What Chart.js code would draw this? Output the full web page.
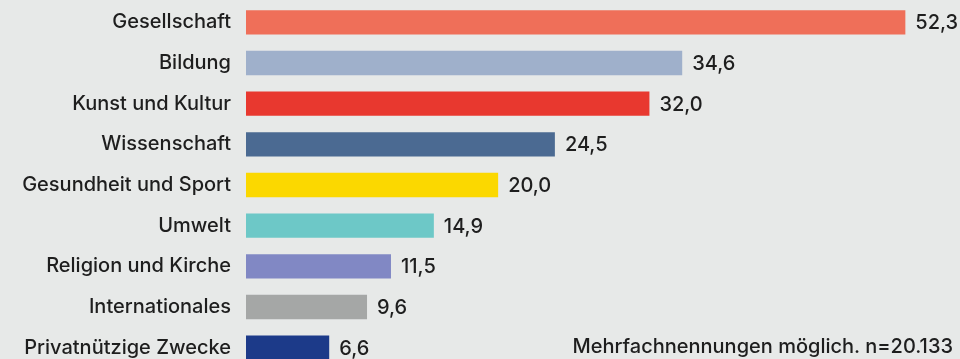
<!DOCTYPE html>
<html><head><meta charset="utf-8">
<script src="https://cdn.jsdelivr.net/npm/chart.js@4/dist/chart.umd.min.js"></script>
<style>
html,body{margin:0;padding:0;background:#e7e9e8;overflow:hidden;width:960px;height:359px;}
#wrap{position:absolute;left:0;top:-17px;width:960px;height:404px;}
#note{position:absolute;right:7px;top:336px;font:500 20px/20px Inter,sans-serif;color:#1e1e1e;white-space:nowrap;}
</style></head><body>
<div id="wrap"><canvas id="c" width="960" height="404"></canvas></div>
<div id="note">Mehrfachnennungen möglich. n=20.133</div>
<script>
const categories = ["Gesellschaft","Bildung","Kunst und Kultur","Wissenschaft","Gesundheit und Sport","Umwelt","Religion und Kirche","Internationales","Privatnützige Zwecke"];
const values = [52.3,34.6,32.0,24.5,20.0,14.9,11.5,9.6,6.6];
const colors = ["#ef6f59","#9fb0cb","#e8382f","#4b6a92","#fbd800","#6dc8c7","#8188c4","#a5a7a6","#1c3a89"];
const fmt = v => v.toFixed(1).replace('.', ',');
const valueLabels = {
  id:'valueLabels',
  afterDatasetsDraw(chart){
    const ctx = chart.ctx;
    const meta = chart.getDatasetMeta(0);
    ctx.save();
    ctx.font = '500 20px Inter, sans-serif';
    ctx.fillStyle = '#1e1e1e';
    ctx.textBaseline = 'middle';
    ctx.textAlign = 'left';
    meta.data.forEach((bar,i)=>{
      ctx.fillText(fmt(values[i]), bar.x + 10, bar.y + 1);
    });
    ctx.restore();
  }
};
new Chart(document.getElementById('c'),{
  type:'bar',
  data:{labels:categories,datasets:[{data:values,backgroundColor:colors,borderWidth:0,categoryPercentage:1,barPercentage:0.6}]},
  options:{
    indexAxis:'y',responsive:false,animation:false,
    layout:{padding:{top:0,bottom:0,right:8,left:0}},
    plugins:{legend:{display:false},tooltip:{enabled:false}},
    scales:{
      x:{display:false,min:0,max:56},
      y:{grid:{display:false},border:{display:false},
         ticks:{color:'#1e1e1e',font:{family:'Inter',size:20,weight:'500'},padding:7},
         afterFit(s){s.width=246;}}
    }
  },
  plugins:[valueLabels]
});
</script></body></html>
